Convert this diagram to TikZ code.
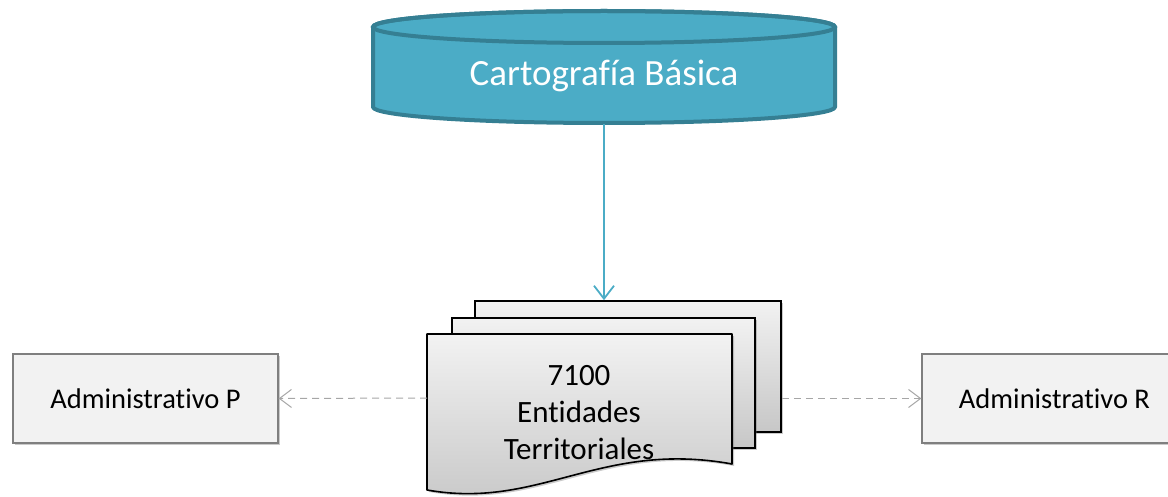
\documentclass[tikz,border=0pt]{standalone}
\usepackage{fontspec}
\setmainfont{Carlito}[RawFeature={-liga;-clig;-dlig}]
\usetikzlibrary{arrows.meta,shadows}
\definecolor{cylfill}{HTML}{4BACC6}
\definecolor{cyldraw}{HTML}{357F93}
\definecolor{boxfill}{HTML}{F2F2F2}
\definecolor{boxdraw}{HTML}{7F7F7F}
\definecolor{dashc}{HTML}{A6A6A6}
\tikzset{
  shad/.style={drop shadow={shadow xshift=2pt,shadow yshift=-2pt,opacity=0.35,fill=black!60}},
  admbox/.style={draw=boxdraw,line width=1.3pt,fill=boxfill,minimum width=265pt,minimum height=89pt,inner sep=0pt,font=\fontsize{28.5}{34}\selectfont,shad},
  docpage/.style={draw=black,line width=1.6pt,shading=axis,top color=boxfill,bottom color=black!22,shad},
  dasharrow/.style={draw=dashc,line width=1pt,dash pattern=on 7pt off 5pt,-{Straight Barb[length=12pt,width=18pt,line width=1pt]}},
  cylarrow/.style={draw=cylfill,line width=1.8pt,-{Straight Barb[length=13pt,width=20pt,line width=1.8pt]}}
}
\begin{document}
\begin{tikzpicture}[x=1pt,y=-1pt]
\useasboundingbox (0,0) rectangle (1168,497);
% cylinder
\path[fill=cylfill,draw=cyldraw,line width=4pt,line join=round]
  (373,27) -- (373,107) arc[start angle=180,end angle=360,x radius=231pt,y radius=16pt]
  -- (835,27) arc[start angle=0,end angle=180,x radius=231pt,y radius=16pt] -- cycle;
\draw[cyldraw,line width=4pt] (604,27) ellipse[x radius=231pt,y radius=16pt];
\node[text=white,font=\fontsize{37}{44}\selectfont] (cyl) at (604,76) {Cartografía Básica};
\coordinate (cylB) at (604,124);
% documents
\node[docpage,minimum width=306pt,minimum height=131pt,inner sep=0pt] (back) at (628,366.5) {};
\node[docpage,minimum width=303pt,minimum height=130pt,inner sep=0pt] (mid) at (603.5,383) {};
\path[docpage,line join=round]
  (427,334) -- (732,334) -- (732,464)
  .. controls (600,440) and (540,510) .. (427,490) -- cycle;
\coordinate (frontL) at (427,398);
\node[align=center,font=\fontsize{31}{37}\selectfont] (doc) at (579,413) {7100\\Entidades\\Territoriales};
% admin boxes
\node[admbox] (admP) at (145.5,398.5) {Administrativo P};
\node[admbox] (admR) at (1054.5,398.5) {Administrativo R};
% connectors
\draw[cylarrow] (cylB) -- (cylB |- back.north);
\draw[dasharrow] (frontL) -- (admP.east);
\draw[dasharrow] (back.east |- admR.west) -- (admR.west);
\end{tikzpicture}
\end{document}
